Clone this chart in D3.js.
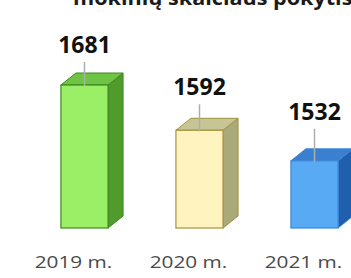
<!DOCTYPE html>
<meta charset="utf-8">
<head>
<script src="https://d3js.org/d3.v7.min.js"></script>
<style>
  body { margin: 0; background: #fff; }
  svg { display: block; }
</style>
</head>
<body>
<div id="chart"></div>
<script>
// data
var years = ["2019 m.", "2020 m.", "2021 m."];
var students = [1681, 1592, 1532];
var labelGap = [32, 35, 41];   // how far each number sits above its bar

var colors = [
  {front: "#9bef66", side: "#4f9b2b", top: "#6fc443", line: "#3e8820"},
  {front: "#fff3bf", side: "#a9a97a", top: "#c6c596", line: "#a5923c"},
  {front: "#58aaf4", side: "#1f5fae", top: "#3b7fd1", line: "#3a86d8"}
];

var W = 351, H = 278;
var depthX = 15, depthY = 12;

var svg = d3.select("#chart").append("svg")
    .attr("width", W).attr("height", H);

var x = d3.scaleBand().domain(years)
    .range([27, 372]).paddingInner(0.59).paddingOuter(0.295);
var y = d3.scaleLinear().domain([1400, 1681]).range([228, 85]);

// title, cut off by the top edge
svg.append("text")
    .attr("transform", "translate(73,5) scale(1.08,1)")
    .style("font-family", "'Open Sans', sans-serif")
    .style("font-weight", "bold")
    .style("font-size", "20px")
    .style("fill", "#1a1a1a")
    .text("mokinių skaičiaus pokytis");

var data = years.map(function (d, i) { return {year: d, v: students[i], i: i}; });

var bars = svg.selectAll("g.bar").data(data).enter().append("g").attr("class", "bar");

bars.each(function (d) {
  var g = d3.select(this);
  var c = colors[d.i];
  var x0 = x(d.year), x1 = x0 + x.bandwidth();
  var y0 = y(d.v), y1 = y(1400);

  // side face
  g.append("path")
    .attr("d", "M" + x1 + "," + y0 + "L" + (x1 + depthX) + "," + (y0 - depthY) +
               "L" + (x1 + depthX) + "," + (y1 - depthY) + "L" + x1 + "," + y1 + "Z")
    .attr("fill", c.side).attr("stroke", c.line).attr("stroke-width", 1);
  // top face
  g.append("path")
    .attr("d", "M" + x0 + "," + y0 + "L" + (x0 + depthX) + "," + (y0 - depthY) +
               "L" + (x1 + depthX) + "," + (y0 - depthY) + "L" + x1 + "," + y0 + "Z")
    .attr("fill", c.top).attr("stroke", c.line).attr("stroke-width", 1);
  // front face
  g.append("rect")
    .attr("x", x0).attr("y", y0)
    .attr("width", x.bandwidth()).attr("height", y1 - y0)
    .attr("fill", c.front).attr("stroke", c.line).attr("stroke-width", 1.2);

  var cx = x0 + x.bandwidth() / 2;
  var base = y0 - labelGap[d.i];
  // leader line
  g.append("line")
    .attr("x1", cx).attr("x2", cx)
    .attr("y1", base + 9).attr("y2", y0 + 1)
    .attr("stroke", "#a9b0a9").attr("stroke-width", 1.5);

  g.append("text")
    .attr("x", cx).attr("y", base)
    .attr("text-anchor", "middle")
    .style("font-family", "'Open Sans', sans-serif")
    .style("font-weight", "bold")
    .style("font-size", "23px")
    .style("fill", "#111")
    .text(d.v);

  // category label
  g.append("text")
    .attr("transform", "translate(" + (cx - 11) + ",268) scale(1.3,1)")
    .attr("text-anchor", "middle")
    .style("font-family", "'Open Sans', sans-serif")
    .style("font-size", "16px")
    .style("fill", "#4a4a4a")
    .text(d.year);
});
</script>
</body>
</html>
